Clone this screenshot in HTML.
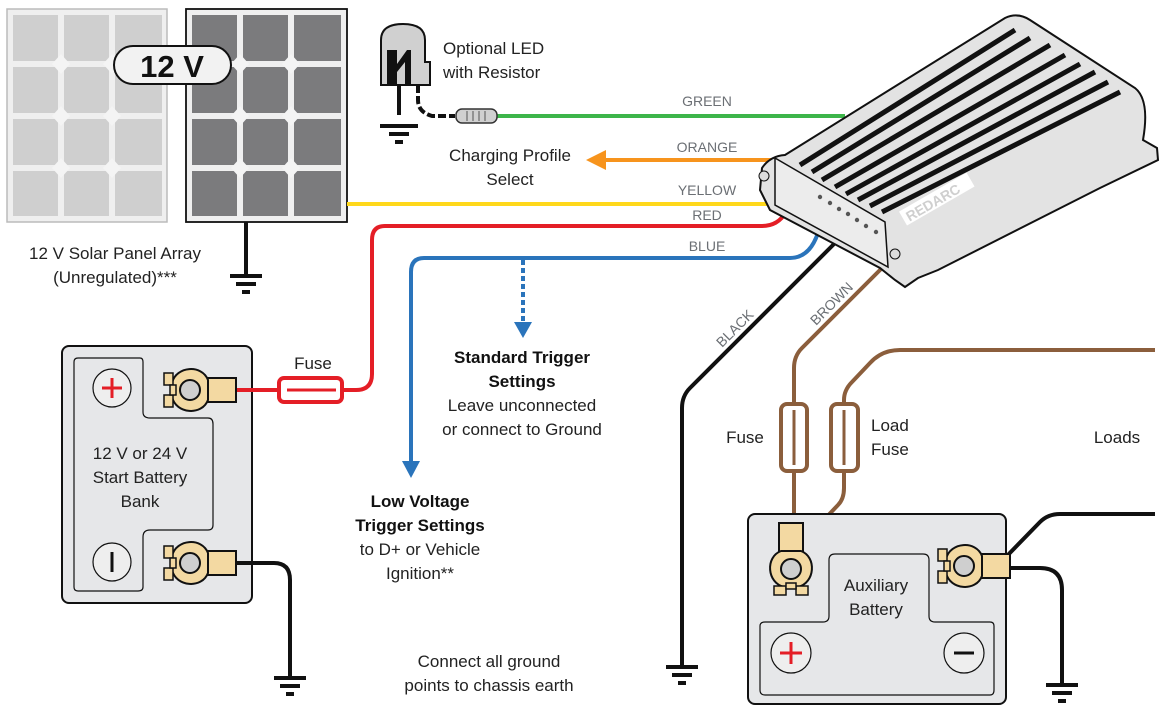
<!DOCTYPE html>
<html><head><meta charset="utf-8"><style>
html,body{margin:0;padding:0;background:#fff}
svg{display:block}
text{font-family:"Liberation Sans",Arial,sans-serif}
</style></head><body>
<svg width="1167" height="711" viewBox="0 0 1167 711" xmlns="http://www.w3.org/2000/svg">
<defs>
<g id="gnd"><line x1="-16" y1="0" x2="16" y2="0" stroke="#111" stroke-width="4"/><line x1="-10" y1="8" x2="10" y2="8" stroke="#111" stroke-width="4"/><line x1="-4" y1="16" x2="4" y2="16" stroke="#111" stroke-width="4"/></g>
<g id="termR">
<rect x="16" y="-12" width="32" height="24" fill="#f3d9a2" stroke="#111" stroke-width="2"/>
<path d="M-16,-7 C-12,-24 14,-26 20,-10 L20,10 C14,26 -12,24 -16,7 Z" fill="#f3d9a2" stroke="#111" stroke-width="2"/>
<circle cx="2" cy="0" r="10" fill="#cfcfcf" stroke="#111" stroke-width="2"/>
<rect x="-24" y="-17" width="9" height="12" fill="#f3d9a2" stroke="#111" stroke-width="1.5"/>
<rect x="-24" y="5" width="9" height="12" fill="#f3d9a2" stroke="#111" stroke-width="1.5"/>
<rect x="-18" y="-5" width="6" height="10" fill="#f3d9a2" stroke="#111" stroke-width="1.5"/>
</g>
</defs>

<!-- Solar panels -->
<rect x="7" y="9" width="160" height="213" fill="#efefef" stroke="#bbb" stroke-width="1.5"/>
<g fill="#cfcfcf">
<rect x="13" y="15" width="45" height="46"/><rect x="64" y="15" width="45" height="46"/><rect x="115" y="15" width="47" height="46"/>
<rect x="13" y="67" width="45" height="46"/><rect x="64" y="67" width="45" height="46"/><rect x="115" y="67" width="47" height="46"/>
<rect x="13" y="119" width="45" height="46"/><rect x="64" y="119" width="45" height="46"/><rect x="115" y="119" width="47" height="46"/>
<rect x="13" y="171" width="45" height="45"/><rect x="64" y="171" width="45" height="45"/><rect x="115" y="171" width="47" height="45"/>
</g>
<rect x="186" y="9" width="161" height="213" fill="#efefef" stroke="#111" stroke-width="1.8"/>
<g fill="#7b7b7d">
<rect x="192" y="15" width="45" height="46"/><rect x="243" y="15" width="45" height="46"/><rect x="294" y="15" width="47" height="46"/>
<rect x="192" y="67" width="45" height="46"/><rect x="243" y="67" width="45" height="46"/><rect x="294" y="67" width="47" height="46"/>
<rect x="192" y="119" width="45" height="46"/><rect x="243" y="119" width="45" height="46"/><rect x="294" y="119" width="47" height="46"/>
<rect x="192" y="171" width="45" height="45"/><rect x="243" y="171" width="45" height="45"/><rect x="294" y="171" width="47" height="45"/>
</g>
<g fill="#f4f4f4">
<polygon points="61,54 70,64 61,74 52,64"/><polygon points="112,54 121,64 112,74 103,64"/>
<polygon points="61,106 70,116 61,126 52,116"/><polygon points="112,106 121,116 112,126 103,116"/>
<polygon points="61,158 70,168 61,178 52,168"/><polygon points="112,158 121,168 112,178 103,168"/>
<polygon points="240,54 249,64 240,74 231,64"/><polygon points="291,54 300,64 291,74 282,64"/>
<polygon points="240,106 249,116 240,126 231,116"/><polygon points="291,106 300,116 291,126 282,116"/>
<polygon points="240,158 249,168 240,178 231,168"/><polygon points="291,158 300,168 291,178 282,168"/>
</g>
<rect x="114" y="46" width="117" height="38" rx="19" fill="#f2f2f2" stroke="#111" stroke-width="2"/>
<text x="172" y="77" font-size="31" font-weight="bold" text-anchor="middle" fill="#111">12 V</text>
<line x1="246" y1="222" x2="246" y2="276" stroke="#111" stroke-width="4"/>
<use href="#gnd" x="246" y="276"/>
<text x="115" y="259" font-size="17" text-anchor="middle" fill="#222">12 V Solar Panel Array</text>
<text x="115" y="283" font-size="17" text-anchor="middle" fill="#222">(Unregulated)***</text>

<!-- LED -->
<path d="M381,85 L381,40 Q381,24 403,24 Q425,24 425,40 L425,62 L430,62 L430,85 Z" fill="#d0d0d0" stroke="#111" stroke-width="2"/>
<path d="M387,50 L397,50 L397,64 L407,50 L411,50 L411,85 L405,85 L405,62 L397,72 L397,85 L387,85 Z" fill="#111"/>
<line x1="399" y1="85" x2="399" y2="115" stroke="#111" stroke-width="4"/>
<path d="M418,85 L418,100 Q418,112 432,116 L455,116" fill="none" stroke="#111" stroke-width="4" stroke-dasharray="8,3"/>
<use href="#gnd" x="399" y="126"/>
<line x1="380" y1="126" x2="418" y2="126" stroke="#111" stroke-width="4"/>
<text x="443" y="54" font-size="17" fill="#222">Optional LED</text>
<text x="443" y="78" font-size="17" fill="#222">with Resistor</text>

<!-- wires -->
<line x1="497" y1="116" x2="845" y2="116" stroke="#3db54a" stroke-width="4"/>
<rect x="456" y="109" width="41" height="14" rx="6" fill="#d0d0d0" stroke="#333" stroke-width="1.5"/>
<line x1="467" y1="111" x2="467" y2="121" stroke="#555"/><line x1="473" y1="111" x2="473" y2="121" stroke="#555"/><line x1="479" y1="111" x2="479" y2="121" stroke="#555"/><line x1="485" y1="111" x2="485" y2="121" stroke="#555"/>
<line x1="605" y1="160" x2="775" y2="160" stroke="#f7941d" stroke-width="4"/>
<polygon points="586,160 606,150 606,170" fill="#f7941d"/>
<line x1="347" y1="204" x2="775" y2="204" stroke="#ffd81b" stroke-width="4"/>
<path d="M786,212 Q778,226 762,226 L385,226 Q372,226 372,240 L372,374 Q372,390 356,390 L250,390" fill="none" stroke="#e41e26" stroke-width="4"/>
<path d="M820,226 Q812,258 790,258 L424,258 Q411,258 411,272 L411,462" fill="none" stroke="#2a74bb" stroke-width="4"/>
<polygon points="411,478 402,461 420,461" fill="#2a74bb"/>
<line x1="523" y1="260" x2="523" y2="322" stroke="#2a74bb" stroke-width="4" stroke-dasharray="5,3"/>
<polygon points="523,338 514,322 532,322" fill="#2a74bb"/>
<g font-size="14" fill="#6b6f74" text-anchor="middle">
<text x="707" y="106">GREEN</text><text x="707" y="152">ORANGE</text><text x="707" y="195">YELLOW</text><text x="707" y="220">RED</text><text x="707" y="251">BLUE</text>
</g>
<text x="510" y="161" font-size="17" text-anchor="middle" fill="#222">Charging Profile</text>
<text x="510" y="185" font-size="17" text-anchor="middle" fill="#222">Select</text>

<!-- black wire -->
<path d="M840,238 L690,388 Q682,396 682,408 L682,665" fill="none" stroke="#111" stroke-width="4"/>
<use href="#gnd" x="682" y="667"/>
<text x="0" y="0" font-size="14" fill="#6b6f74" transform="translate(722,348) rotate(-45)">BLACK</text>
<!-- brown -->
<path d="M885,265 L802,348 Q794,356 794,368 L794,545" fill="none" stroke="#8b5e3c" stroke-width="4"/>
<path d="M800,545 L838,505 Q844,499 844,488 L844,400 Q844,390 852,382 L870,363 Q882,350 900,350 L1155,350" fill="none" stroke="#8b5e3c" stroke-width="4"/>
<text x="0" y="0" font-size="14" fill="#6b6f74" transform="translate(816,326) rotate(-45)">BROWN</text>
<rect x="781" y="404" width="26" height="67" rx="6" fill="#fff" stroke="#8b5e3c" stroke-width="4"/>
<line x1="794" y1="410" x2="794" y2="465" stroke="#8b5e3c" stroke-width="3"/>
<rect x="831" y="404" width="27" height="67" rx="6" fill="#fff" stroke="#8b5e3c" stroke-width="4"/>
<line x1="844" y1="410" x2="844" y2="465" stroke="#8b5e3c" stroke-width="3"/>
<text x="745" y="443" font-size="17" text-anchor="middle" fill="#222">Fuse</text>
<text x="871" y="431" font-size="17" fill="#222">Load</text>
<text x="871" y="455" font-size="17" fill="#222">Fuse</text>
<text x="1117" y="443" font-size="17" text-anchor="middle" fill="#222">Loads</text>

<!-- device -->
<path d="M762,168 Q770,156 785,155 L1005,18 Q1018,12 1030,20 L1135,88 Q1150,100 1143,140 L1157,148 L1158,160 L1100,188 L938,270 L918,278 L905,287 L895,280 L880,268 L770,210 L760,190 Z" fill="#e3e3e3" stroke="#111" stroke-width="2"/>
<g stroke="#111" stroke-width="5">
<line x1="800" y1="165" x2="1015" y2="30"/><line x1="812" y1="172" x2="1030" y2="38"/><line x1="822" y1="180" x2="1050" y2="45"/>
<line x1="835" y1="187" x2="1065" y2="55"/><line x1="846" y1="194" x2="1080" y2="64"/><line x1="858" y1="200" x2="1095" y2="72"/>
<line x1="870" y1="206" x2="1108" y2="82"/><line x1="882" y1="212" x2="1120" y2="92"/>
</g>
<path d="M775,158 L885,222 L888,267 L775,205 Z" fill="#ececec" stroke="#111" stroke-width="1.5"/>
<g fill="#555"><circle cx="820" cy="197" r="2.2"/><circle cx="830" cy="203" r="2.2"/><circle cx="839" cy="209" r="2.2"/><circle cx="848" cy="214" r="2.2"/><circle cx="857" cy="220" r="2.2"/><circle cx="866" cy="226" r="2.2"/><circle cx="876" cy="232" r="2.2"/></g>
<circle cx="764" cy="176" r="5" fill="#ddd" stroke="#111"/><circle cx="895" cy="254" r="5" fill="#ddd" stroke="#111"/>
<g transform="translate(905,222) rotate(-30)"><rect x="0" y="-12" width="78" height="16" fill="#fff"/><text x="4" y="2" font-size="14" font-weight="bold" fill="#cfcfcf">REDARC</text></g>

<!-- start battery -->
<rect x="62" y="346" width="190" height="257" rx="7" fill="#e6e7e9" stroke="#111" stroke-width="2"/>
<path d="M74,362 Q74,358 78,358 L140,358 Q143,358 143,362 L143,412 Q143,418 150,418 L208,418 Q213,418 213,424 L213,525 Q213,530 208,530 L150,530 Q143,530 143,537 L143,587 Q143,591 138,591 L78,591 Q74,591 74,587 Z" fill="none" stroke="#111" stroke-width="1.2"/>
<circle cx="112" cy="388" r="19" fill="#eee" stroke="#111" stroke-width="1.2"/>
<line x1="102" y1="388" x2="122" y2="388" stroke="#e41e26" stroke-width="3"/><line x1="112" y1="378" x2="112" y2="398" stroke="#e41e26" stroke-width="3"/>
<circle cx="112" cy="562" r="19" fill="#eee" stroke="#111" stroke-width="1.2"/>
<line x1="112" y1="552" x2="112" y2="572" stroke="#111" stroke-width="3"/>
<text x="140" y="459" font-size="17" text-anchor="middle" fill="#222">12 V or 24 V</text>
<text x="140" y="483" font-size="17" text-anchor="middle" fill="#222">Start Battery</text>
<text x="140" y="507" font-size="17" text-anchor="middle" fill="#222">Bank</text>
<line x1="236" y1="390" x2="280" y2="390" stroke="#e41e26" stroke-width="4"/>
<rect x="279" y="378" width="63" height="24" rx="5" fill="#fff" stroke="#e41e26" stroke-width="4"/>
<line x1="287" y1="390" x2="336" y2="390" stroke="#e41e26" stroke-width="3"/>
<use href="#termR" x="188" y="390"/>
<path d="M236,563 L274,563 Q290,563 290,580 L290,676" fill="none" stroke="#111" stroke-width="4"/>
<use href="#termR" x="188" y="563"/>
<use href="#gnd" x="290" y="678"/>
<text x="313" y="369" font-size="17" text-anchor="middle" fill="#222">Fuse</text>

<!-- aux battery -->
<rect x="748" y="514" width="258" height="190" rx="7" fill="#e6e7e9" stroke="#111" stroke-width="2"/>
<path d="M760,626 Q760,622 765,622 L823,622 Q829,622 829,616 L829,560 Q829,554 835,554 L923,554 Q929,554 929,560 L929,616 Q929,622 935,622 L990,622 Q994,622 994,626 L994,690 Q994,695 990,695 L765,695 Q760,695 760,690 Z" fill="none" stroke="#111" stroke-width="1.2"/>
<circle cx="791" cy="653" r="20" fill="#eee" stroke="#111" stroke-width="1.2"/>
<line x1="780" y1="653" x2="802" y2="653" stroke="#e41e26" stroke-width="3"/><line x1="791" y1="642" x2="791" y2="664" stroke="#e41e26" stroke-width="3"/>
<circle cx="964" cy="653" r="20" fill="#eee" stroke="#111" stroke-width="1.2"/>
<line x1="954" y1="653" x2="974" y2="653" stroke="#111" stroke-width="3"/>
<text x="876" y="591" font-size="17" text-anchor="middle" fill="#222">Auxiliary</text>
<text x="876" y="615" font-size="17" text-anchor="middle" fill="#222">Battery</text>
<g transform="translate(791,571) rotate(-90)"><use href="#termR"/></g>
<path d="M1003,560 L1040,522 Q1048,514 1060,514 L1155,514" fill="none" stroke="#111" stroke-width="4"/>
<path d="M1003,568 L1040,568 Q1062,568 1062,590 L1062,683" fill="none" stroke="#111" stroke-width="4"/>
<use href="#termR" x="962" y="566"/>
<use href="#gnd" x="1062" y="685"/>

<!-- trigger texts -->
<text x="522" y="363" font-size="17" font-weight="bold" text-anchor="middle" fill="#111">Standard Trigger</text>
<text x="522" y="387" font-size="17" font-weight="bold" text-anchor="middle" fill="#111">Settings</text>
<text x="522" y="411" font-size="17" text-anchor="middle" fill="#222">Leave unconnected</text>
<text x="522" y="435" font-size="17" text-anchor="middle" fill="#222">or connect to Ground</text>
<text x="420" y="507" font-size="17" font-weight="bold" text-anchor="middle" fill="#111">Low Voltage</text>
<text x="420" y="531" font-size="17" font-weight="bold" text-anchor="middle" fill="#111">Trigger Settings</text>
<text x="420" y="555" font-size="17" text-anchor="middle" fill="#222">to D+ or Vehicle</text>
<text x="420" y="579" font-size="17" text-anchor="middle" fill="#222">Ignition**</text>
<text x="489" y="667" font-size="17" text-anchor="middle" fill="#222">Connect all ground</text>
<text x="489" y="691" font-size="17" text-anchor="middle" fill="#222">points to chassis earth</text>
</svg>
</body></html>
